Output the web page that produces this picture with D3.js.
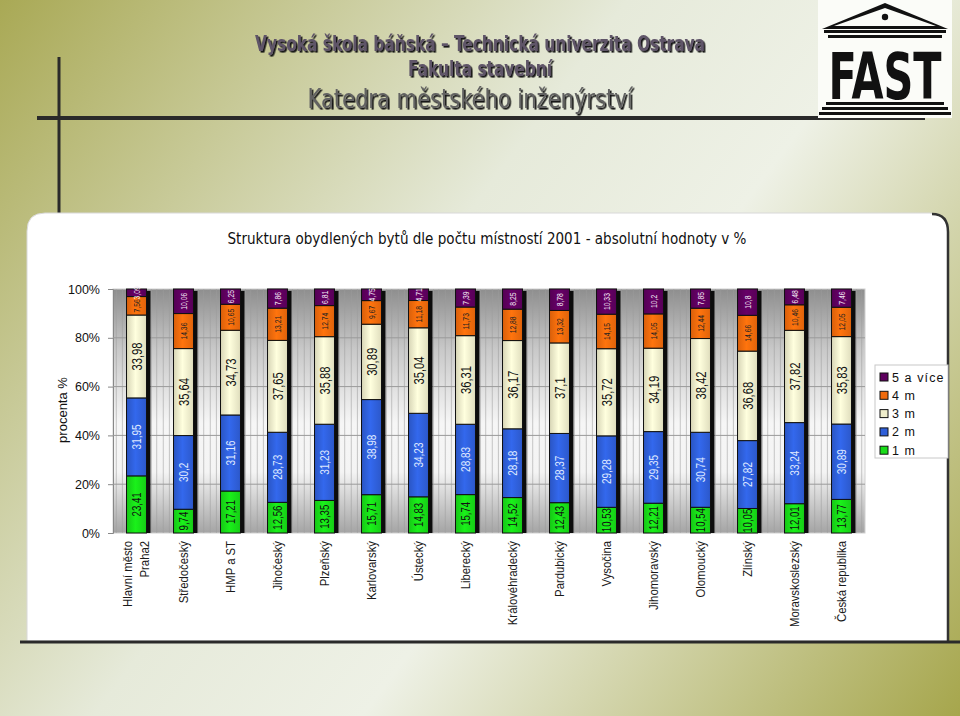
<!DOCTYPE html>
<html>
<head>
<meta charset="utf-8">
<script src="https://cdn.jsdelivr.net/npm/d3@7"></script>
<style>
  html, body { margin: 0; padding: 0; background: #fff; }
  svg { display: block; }
</style>
</head>
<body>
<div id="chart"></div>
<script>
// kraje (poslední je celá ČR)
const categories = ['Hlavní město Praha2', 'Středočeský', 'HMP a ST', 'Jihočeský', 'Plzeňský',
  'Karlovarský', 'Ústecký', 'Liberecký', 'Královéhradecký', 'Pardubický', 'Vysočina',
  'Jihomoravský', 'Olomoucký', 'Zlínský', 'Moravskoslezský', 'Česká republika'];

const seriesNames = ['1 m', '2 m', '3 m', '4 m', '5 a více'];

// podíly bytů v % podle počtu místností
const oneRoom = [23.41, 9.74, 17.21, 12.56, 13.35, 15.71, 14.83, 15.74, 14.52, 12.43, 10.53, 12.21, 10.54, 10.05, 12.01, 13.77];
const twoRooms = [31.95, 30.2, 31.16, 28.73, 31.23, 38.98, 34.23, 28.83, 28.18, 28.37, 29.28, 29.35, 30.74, 27.82, 33.24, 30.89];
const threeRooms = [33.98, 35.64, 34.73, 37.65, 35.88, 30.89, 35.04, 36.31, 36.17, 37.1, 35.72, 34.19, 38.42, 36.68, 37.82, 35.83];
const fourRooms = [7.56, 14.36, 10.65, 13.21, 12.74, 9.67, 11.18, 11.73, 12.88, 13.32, 14.15, 14.05, 12.44, 14.66, 10.46, 12.05];
const fivePlus = [3.09, 10.06, 6.25, 7.86, 6.81, 4.75, 4.71, 7.39, 8.25, 8.78, 10.33, 10.2, 7.85, 10.8, 6.48, 7.46];

const yTicks = [0, 20, 40, 60, 80, 100];

const colors = ['#18dc18', '#2f5fd9', '#efedcb', '#f06a0c', '#5e005e'];
const labelColors = ['#111', '#dfe8ff', '#111', '#222', '#f2e8f2'];
const labelSizes = [12, 12.5, 14, 8.5, 8.5];

const W = 960, H = 716;
const plot = { left: 113, right: 865, top: 289, bottom: 533 };

const svg = d3.select('#chart').append('svg')
  .attr('width', W)
  .attr('height', H);

const defs = svg.append('defs');

// page background
const bg = defs.append('linearGradient').attr('id', 'bg')
  .attr('gradientUnits', 'userSpaceOnUse')
  .attr('x1', 0).attr('y1', 0).attr('x2', W).attr('y2', H);
bg.append('stop').attr('offset', 0).attr('stop-color', '#a9a955');
bg.append('stop').attr('offset', 0.42).attr('stop-color', '#e6eada');
bg.append('stop').attr('offset', 0.6).attr('stop-color', '#eef1e6');
bg.append('stop').attr('offset', 1).attr('stop-color', '#a6a64c');

const plotBg = defs.append('linearGradient').attr('id', 'plotbg')
  .attr('x1', 0).attr('y1', 0).attr('x2', 0).attr('y2', 1);
plotBg.append('stop').attr('offset', 0).attr('stop-color', '#8e8e8e');
plotBg.append('stop').attr('offset', 0.25).attr('stop-color', '#c9c9c9');
plotBg.append('stop').attr('offset', 0.55).attr('stop-color', '#f6f6f6');
plotBg.append('stop').attr('offset', 0.75).attr('stop-color', '#f4f4f4');
plotBg.append('stop').attr('offset', 1).attr('stop-color', '#a4a4a4');

const shadow = defs.append('filter').attr('id', 'shadow')
  .attr('x', '-10%').attr('y', '-50%').attr('width', '120%').attr('height', '200%');
shadow.append('feDropShadow')
  .attr('dx', 1.6).attr('dy', 1.6).attr('stdDeviation', 0.3)
  .attr('flood-color', '#161616').attr('flood-opacity', 1);

colors.forEach((c, i) => {
  const g = defs.append('linearGradient').attr('id', 'bar' + i)
    .attr('x1', 0).attr('y1', 0).attr('x2', 1).attr('y2', 0);
  g.append('stop').attr('offset', 0).attr('stop-color', d3.color(c).darker(0.3));
  g.append('stop').attr('offset', 0.45).attr('stop-color', d3.color(c).brighter(0.25));
  g.append('stop').attr('offset', 1).attr('stop-color', d3.color(c).darker(0.2));
});

svg.append('rect').attr('width', W).attr('height', H).attr('fill', 'url(#bg)');

// header
svg.append('line').attr('x1', 59).attr('x2', 59).attr('y1', 57).attr('y2', 213)
  .attr('stroke', '#2a2a2a').attr('stroke-width', 3);
svg.append('line').attr('x1', 37).attr('x2', 925).attr('y1', 118).attr('y2', 118)
  .attr('stroke', '#2a2a2a').attr('stroke-width', 4);

function headerText(txt, x, y, size, len, fill, weight, family) {
  svg.append('text')
    .attr('x', x).attr('y', y)
    .attr('text-anchor', 'middle')
    .attr('font-family', family)
    .attr('font-weight', weight)
    .attr('font-size', size)
    .attr('textLength', len)
    .attr('lengthAdjust', 'spacingAndGlyphs')
    .attr('fill', fill)
    .attr('filter', 'url(#shadow)')
    .text(txt);
}
headerText('Vysoká škola báňská – Technická univerzita Ostrava', 480, 51, 22, 450, '#5f5468', 'bold', '"DejaVu Sans Condensed", "Liberation Sans Narrow", sans-serif');
headerText('Fakulta stavební', 480, 76, 22, 144, '#5f5468', 'bold', '"DejaVu Sans Condensed", "Liberation Sans Narrow", sans-serif');
headerText('Katedra městského inženýrství', 470, 108, 26, 325, '#626262', 'normal', '"Liberation Sans Narrow", "DejaVu Sans Condensed", sans-serif');

// FAST logo
const logo = svg.append('g');
logo.append('rect').attr('x', 818).attr('y', 0).attr('width', 134).attr('height', 118).attr('fill', '#fbfcf8');
logo.append('path').attr('d', 'M822,29 L885,3 L948,29 Z').attr('fill', '#111');
logo.append('path').attr('d', 'M834,26 L885,8 L936,26 Z').attr('fill', '#fbfcf8');
logo.append('circle').attr('cx', 885).attr('cy', 17).attr('r', 3.2).attr('fill', '#111');
logo.append('rect').attr('x', 824).attr('y', 30).attr('width', 122).attr('height', 3).attr('fill', '#111');
logo.append('rect').attr('x', 828).attr('y', 35).attr('width', 114).attr('height', 3).attr('fill', '#111');
logo.append('rect').attr('x', 826).attr('y', 102).attr('width', 118).attr('height', 3).attr('fill', '#111');
logo.append('rect').attr('x', 822).attr('y', 107).attr('width', 126).attr('height', 3).attr('fill', '#111');
logo.append('rect').attr('x', 819).attr('y', 112).attr('width', 132).attr('height', 3).attr('fill', '#111');
logo.append('text')
  .attr('transform', 'translate(885,99) scale(1,1.4)')
  .attr('text-anchor', 'middle')
  .attr('font-family', '"DejaVu Sans Condensed", sans-serif').attr('font-weight', 'bold')
  .attr('font-size', 46)
  .attr('fill', '#111').text('FAST');

// chart panel
svg.append('path')
  .attr('d', 'M27,641 L27,231 Q27,213 45,213 L930,213 Q948,213 948,231 L948,641 Z')
  .attr('fill', '#fff').attr('stroke', '#d8d8d8').attr('stroke-width', 1);
svg.append('path')
  .attr('d', 'M932,214 Q948,214 948,232 L948,641')
  .attr('fill', 'none').attr('stroke', '#333').attr('stroke-width', 2.5);
svg.append('line').attr('x1', 20).attr('x2', 960).attr('y1', 642).attr('y2', 642)
  .attr('stroke', '#2a2a2a').attr('stroke-width', 3);

svg.append('text')
  .attr('x', 487).attr('y', 244)
  .attr('text-anchor', 'middle')
  .attr('font-family', '"Liberation Sans Narrow", "DejaVu Sans Condensed", sans-serif')
  .attr('font-size', 15.5)
  .attr('textLength', 519).attr('lengthAdjust', 'spacingAndGlyphs')
  .attr('fill', '#111')
  .text('Struktura obydlených bytů dle počtu místností 2001 -  absolutní hodnoty v %');

// scales
const x = d3.scaleBand()
  .domain(categories)
  .range([plot.left, plot.right])
  .paddingInner(0.575)
  .paddingOuter(0.2875);

const y = d3.scaleLinear()
  .domain([0, 100])
  .range([plot.bottom, plot.top]);

// plot area
svg.append('rect')
  .attr('x', plot.left).attr('y', plot.top)
  .attr('width', plot.right - plot.left).attr('height', plot.bottom - plot.top)
  .attr('fill', 'url(#plotbg)').attr('stroke', '#d0d0d0');

const step = x.step();
const vLines = [];
categories.forEach(c => {
  const s = x(c) - x.paddingOuter() * step;
  vLines.push(s + step * 0.07, s + step * 0.2, s + step * 0.82, s + step * 0.93);
});
svg.append('g').selectAll('line').data(vLines).enter().append('line')
  .attr('x1', d => d).attr('x2', d => d)
  .attr('y1', plot.top).attr('y2', plot.bottom)
  .attr('stroke', '#9c9c9c').attr('stroke-opacity', 0.55).attr('stroke-width', 1);

const yAxis = d3.axisLeft(y)
  .tickValues(yTicks)
  .tickSize(5)
  .tickFormat(d => d + '%');

const yg = svg.append('g')
  .attr('transform', 'translate(' + plot.left + ',0)')
  .call(yAxis);
yg.select('.domain').attr('stroke', '#888');
yg.selectAll('.tick line').attr('stroke', '#888');
yg.selectAll('.tick text')
  .attr('x', -13)
  .attr('font-family', '"Liberation Sans", Arial, sans-serif')
  .attr('font-size', 12.5)
  .attr('fill', '#111');

svg.append('g').selectAll('line').data(yTicks.slice(1, -1)).enter().append('line')
  .attr('x1', plot.left).attr('x2', plot.right)
  .attr('y1', d => y(d)).attr('y2', d => y(d))
  .attr('stroke', '#9a9a9a').attr('stroke-width', 1);

svg.append('text')
  .attr('transform', 'translate(67,' + 410 + ') rotate(-90)')
  .attr('text-anchor', 'middle')
  .attr('font-family', '"Liberation Sans", Arial, sans-serif')
  .attr('font-size', 13)
  .attr('fill', '#111')
  .text('procenta %');

// stacked bars
const table = categories.map((c, i) => ({
  cat: c,
  '1 m': oneRoom[i], '2 m': twoRooms[i], '3 m': threeRooms[i],
  '4 m': fourRooms[i], '5 a více': fivePlus[i]
}));
const stacked = d3.stack().keys(seriesNames)(table);
const bw = x.bandwidth();

// dark side shadow of each column
svg.append('g').selectAll('rect').data(table).enter().append('rect')
  .attr('x', d => x(d.cat) + 2)
  .attr('y', y(100) + 2)
  .attr('width', bw + 2)
  .attr('height', y(0) - y(100) - 2)
  .attr('fill', '#0c0c0c');

const layers = svg.append('g').selectAll('g')
  .data(stacked).enter().append('g')
  .attr('fill', (d, i) => 'url(#bar' + i + ')');

layers.selectAll('rect')
  .data(d => d).enter().append('rect')
  .attr('x', d => x(d.data.cat))
  .attr('y', d => y(d[1]))
  .attr('width', bw)
  .attr('height', d => y(d[0]) - y(d[1]))
  .attr('stroke', '#111')
  .attr('stroke-width', 1);

const fmt = v => String(v).replace('.', ',');

stacked.forEach((layer, i) => {
  svg.append('g').selectAll('text')
    .data(layer).enter().append('text')
    .attr('transform', d => 'translate(' + (x(d.data.cat) + bw / 2) + ',' + ((y(d[0]) + y(d[1])) / 2) + ') rotate(-90) scale(0.8,1)')
    .attr('text-anchor', 'middle')
    .attr('dy', '0.36em')
    .attr('font-family', '"Liberation Sans", Arial, sans-serif')
    .attr('font-size', labelSizes[i])
    .attr('fill', labelColors[i])
    .text(d => fmt(d.data[layer.key]));
});

// category labels
const catLabels = svg.append('g').selectAll('text')
  .data(categories).enter().append('text')
  .attr('transform', d => 'translate(' + (x(d) + bw / 2) + ',541) rotate(-90) scale(0.87,1)')
  .attr('text-anchor', 'end')
  .attr('font-family', '"Liberation Sans", Arial, sans-serif')
  .attr('font-size', 13)
  .attr('fill', '#1a1a1a');

catLabels.each(function (d) {
  const t = d3.select(this);
  if (d === 'Hlavní město Praha2') {
    t.append('tspan').attr('x', 0).attr('dy', '-0.35em').text('Hlavní město');
    t.append('tspan').attr('x', 0).attr('dy', '1.35em').text('Praha2');
  } else {
    t.attr('dy', '0.35em').text(d);
  }
});

// legend
const legend = svg.append('g');
legend.append('rect')
  .attr('x', 875).attr('y', 365).attr('width', 73).attr('height', 93)
  .attr('fill', '#fff').attr('stroke', '#c8c8c8');
const legendItems = seriesNames.slice().reverse();
legendItems.forEach((name, i) => {
  const ci = seriesNames.indexOf(name);
  const ly = 377 + i * 18.3;
  legend.append('rect')
    .attr('x', 880).attr('y', ly - 4).attr('width', 8).attr('height', 8)
    .attr('fill', colors[ci]).attr('stroke', '#111');
  legend.append('text')
    .attr('x', 892).attr('y', ly)
    .attr('dy', '0.36em')
    .attr('font-family', '"Liberation Sans", Arial, sans-serif')
    .attr('font-size', 12.5)
    .attr('letter-spacing', 1.1)
    .attr('fill', '#111')
    .text(name);
});
</script>
</body>
</html>
